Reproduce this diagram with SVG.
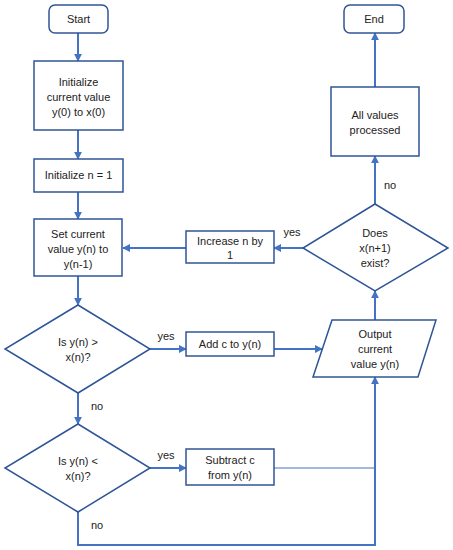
<svg xmlns="http://www.w3.org/2000/svg" width="453" height="550" viewBox="0 0 453 550">
<style>
.n{fill:#fff;stroke:#2f5597;stroke-width:1.5}
.t{font-family:"Liberation Sans",Arial,sans-serif;font-size:11px;fill:#222;text-anchor:middle}
.c{fill:none;stroke:#4472c4;stroke-width:2}
.thin{fill:none;stroke:#4472c4;stroke-width:1.2}
</style>
<defs>
<marker id="a" viewBox="0 0 10 10" refX="9" refY="5" markerWidth="4" markerHeight="4" orient="auto" markerUnits="strokeWidth">
<path d="M0,0 L10,5 L0,10 z" fill="#4472c4"/>
</marker>
</defs>
<rect width="453" height="550" fill="#fff"/>
<g id="connectors">
<path class="c" d="M78,33 V61" marker-end="url(#a)"/>
<path class="c" d="M78,130 V159" marker-end="url(#a)"/>
<path class="c" d="M78,192 V219" marker-end="url(#a)"/>
<path class="c" d="M78,276 V305" marker-end="url(#a)"/>
<path class="c" d="M78,393 V424" marker-end="url(#a)"/>
<path class="c" d="M78,512 V545 H375 V377" marker-end="url(#a)"/>
<path class="thin" d="M274,468 H375"/>
<path class="c" d="M150,349 H186" marker-end="url(#a)"/>
<path class="c" d="M150,468 H186" marker-end="url(#a)"/>
<path class="c" d="M274,349 H322" marker-end="url(#a)"/>
<path class="c" d="M375,320 V291" marker-end="url(#a)"/>
<path class="c" d="M303,248 H274" marker-end="url(#a)"/>
<path class="c" d="M186,248 H123" marker-end="url(#a)"/>
<path class="c" d="M375,204 V156" marker-end="url(#a)"/>
<path class="c" d="M375,87 V33" marker-end="url(#a)"/>
<text class="t" x="166" y="340">yes</text>
<text class="t" x="166" y="459">yes</text>
<text class="t" x="292" y="236">yes</text>
<text class="t" x="97" y="410">no</text>
<text class="t" x="97" y="529">no</text>
<text class="t" x="390" y="189">no</text>
</g>
<g id="start"><rect class="n" x="49" y="5" width="59" height="28" rx="6"/><text class="t" x="78.5" y="23">Start</text></g>
<g id="init"><rect class="n" x="34" y="61" width="89" height="69"/><text class="t" x="78.5" y="86">Initialize</text><text class="t" x="78.5" y="101">current value</text><text class="t" x="78.5" y="116">y(0) to x(0)</text></g>
<g id="initn"><rect class="n" x="34" y="159" width="89" height="33"/><text class="t" x="78.5" y="179">Initialize n = 1</text></g>
<g id="set"><rect class="n" x="34" y="219" width="88" height="57"/><text class="t" x="78" y="238">Set current</text><text class="t" x="78" y="253">value y(n) to</text><text class="t" x="78" y="268">y(n-1)</text></g>
<g id="d1"><polygon class="n" points="78,305 150,349 78,393 5,349"/><text class="t" x="78" y="346">Is y(n) &gt;</text><text class="t" x="78" y="361">x(n)?</text></g>
<g id="d2"><polygon class="n" points="78,424 150,468 78,512 5,468"/><text class="t" x="78" y="465">Is y(n) &lt;</text><text class="t" x="78" y="480">x(n)?</text></g>
<g id="inc"><rect class="n" x="186" y="231" width="88" height="32"/><text class="t" x="230" y="245">Increase n by</text><text class="t" x="230" y="259">1</text></g>
<g id="add"><rect class="n" x="186" y="332" width="88" height="24"/><text class="t" x="230" y="348">Add c to y(n)</text></g>
<g id="sub"><rect class="n" x="186" y="449" width="88" height="36"/><text class="t" x="230" y="464">Subtract c</text><text class="t" x="230" y="479">from y(n)</text></g>
<g id="out"><polygon class="n" points="332,320 436,320 418,377 313,377"/><text class="t" x="375" y="338">Output</text><text class="t" x="375" y="353">current</text><text class="t" x="375" y="368">value y(n)</text></g>
<g id="d3"><polygon class="n" points="375,204 448,248 375,291 303,248"/><text class="t" x="375" y="237">Does</text><text class="t" x="375" y="252">x(n+1)</text><text class="t" x="375" y="267">exist?</text></g>
<g id="all"><rect class="n" x="331" y="87" width="88" height="69"/><text class="t" x="375" y="119">All values</text><text class="t" x="375" y="134">processed</text></g>
<g id="end"><rect class="n" x="344" y="5" width="60" height="28" rx="6"/><text class="t" x="374" y="23">End</text></g>
</svg>
